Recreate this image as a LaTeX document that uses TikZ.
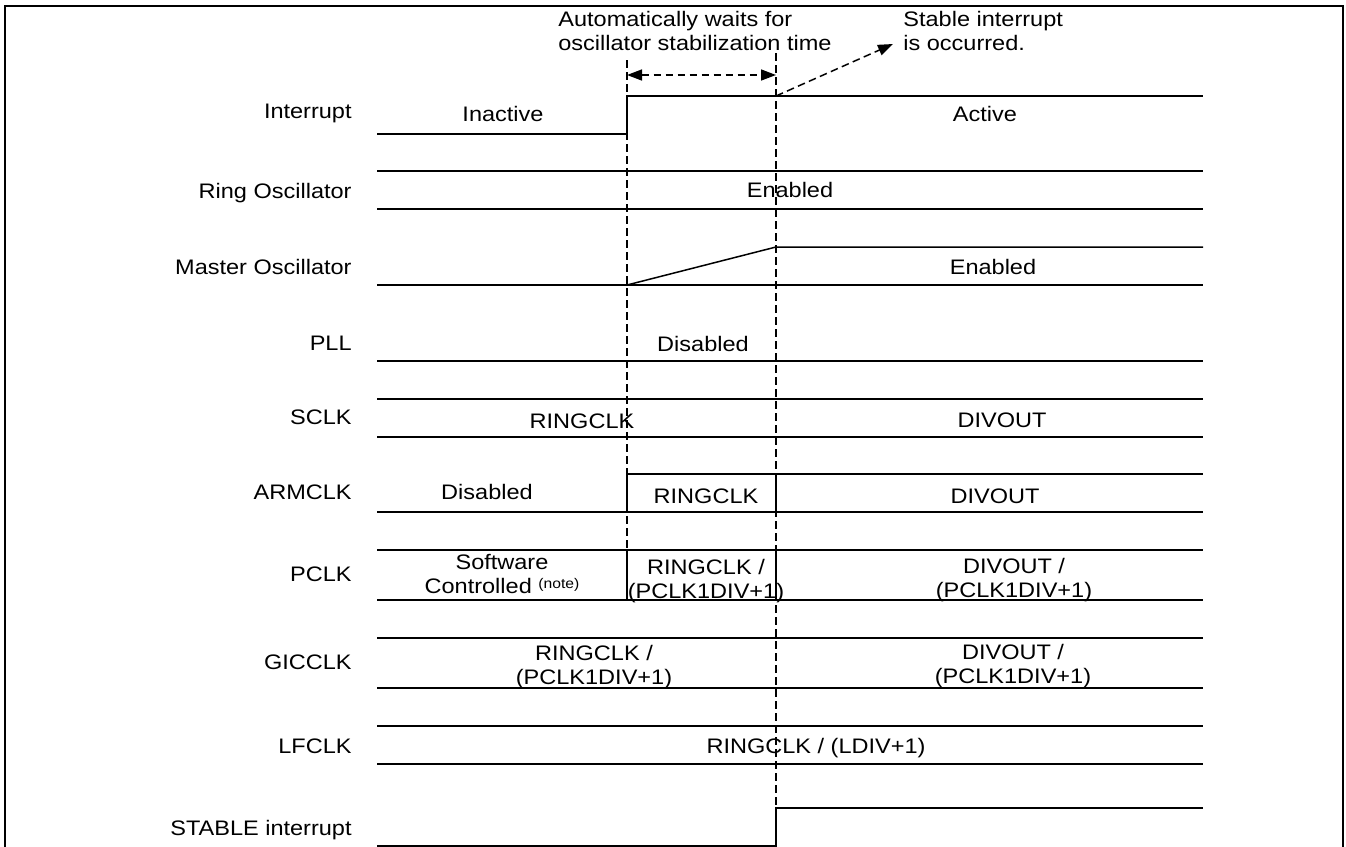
\documentclass[tikz,border=0pt]{standalone}
\usepackage{fontspec}
\setmainfont{Liberation Sans}[FakeStretch=1.12]
\usetikzlibrary{arrows.meta}
\newcommand{\twol}[2]{\begin{tabular}{@{}c@{}}#1\\#2\end{tabular}}
\newcommand{\twoleft}[2]{\begin{tabular}{@{}l@{}}#1\\#2\end{tabular}}
\newcommand{\notemark}{{\fontsize{7}{7}\selectfont\raisebox{2.8pt}{(note)}}}
\begin{document}
\begin{tikzpicture}[x=0.5pt,y=-0.5pt,
  every node/.style={font=\fontsize{10.5}{12}\selectfont},
  frame/.style={line width=1.1pt},
  sig/.style={line width=0.75pt},
  vdash/.style={line width=0.75pt, dash pattern=on 3.8pt off 2.2pt},
  >={Triangle[length=7.5pt,width=5.5pt]},
  lbl/.style={anchor=east, inner sep=0pt, text height=7.5pt, text depth=0pt},
  txt/.style={inner sep=0pt, text height=7.5pt, text depth=0pt},
  txttwo/.style={inner sep=0pt}
]
\useasboundingbox (0,0) rectangle (1346,847);
\draw[frame] (5,852) -- (5,6) -- (1343,6) -- (1343,852);

% time marks
\coordinate (ta) at (627,60);
\coordinate (tab) at (627,600);
\coordinate (tb) at (776,53);
\coordinate (tbb) at (776,846);

% row labels
\node[lbl] (lint) at (352,111) {Interrupt};
\node[lbl] (lring) at (352,191) {Ring Oscillator};
\node[lbl] (lmas) at (352,267) {Master Oscillator};
\node[lbl] (lpll) at (352,343) {PLL};
\node[lbl] (lsclk) at (352,417) {SCLK};
\node[lbl] (larm) at (352,492) {ARMCLK};
\node[lbl] (lpclk) at (352,574) {PCLK};
\node[lbl] (lgic) at (352,662) {GICCLK};
\node[lbl] (llf) at (352,746) {LFCLK};
\node[lbl] (lstab) at (352,828) {STABLE interrupt};

% Interrupt
\draw[sig] (377,134) -- (627,134) -- (627,96) -- (1203,96);
\node[txt] (tinact) at (503,114) {Inactive};
\node[txt] (tact) at (985,114) {Active};

% Ring oscillator
\draw[sig] (377,171) -- (1203,171);
\draw[sig] (377,209) -- (1203,209);
\node[txt] (tring) at (790,190) {Enabled};

% Master oscillator
\draw[sig] (377,285) -- (1203,285);
\draw[sig] (627,285) -- (776,247) -- (1203,247);
\node[txt] (tmas) at (993,267) {Enabled};

% PLL
\draw[sig] (377,361) -- (1203,361);
\node[txt] (tpll) at (703,344) {Disabled};

% SCLK
\draw[sig] (377,399) -- (1203,399);
\draw[sig] (377,437) -- (1203,437);
\node[txt] (tsclka) at (582,421) {RINGCLK};
\node[txt] (tsclkb) at (1002,420) {DIVOUT};

% ARMCLK
\draw[sig] (377,512) -- (1203,512);
\draw[sig] (627,512) -- (627,474) -- (1203,474);
\draw[sig] (776,474) -- (776,512);
\node[txt] (tarma) at (487,492) {Disabled};
\node[txt] (tarmb) at (706,496) {RINGCLK};
\node[txt] (tarmc) at (995,496) {DIVOUT};

% PCLK
\draw[sig] (377,550) -- (1203,550);
\draw[sig] (377,600) -- (1203,600);
\draw[sig] (627,550) -- (627,600);
\draw[sig] (776,550) -- (776,600);
\node[txttwo] (tpclka) at (502,577) {\twol{Software}{Controlled \notemark}};
\node[txttwo] (tpclkb) at (706,582) {\twol{RINGCLK /}{(PCLK1DIV+1)}};
\node[txttwo] (tpclkc) at (1014,581) {\twol{DIVOUT /}{(PCLK1DIV+1)}};

% GICCLK
\draw[sig] (377,638) -- (1203,638);
\draw[sig] (377,688) -- (1203,688);
\node[txttwo] (tgica) at (594,668) {\twol{RINGCLK /}{(PCLK1DIV+1)}};
\node[txttwo] (tgicb) at (1013,667) {\twol{DIVOUT /}{(PCLK1DIV+1)}};

% LFCLK
\draw[sig] (377,726) -- (1203,726);
\draw[sig] (377,764) -- (1203,764);
\node[txt] (tlf) at (816,746) {RINGCLK / (LDIV+1)};

% STABLE interrupt
\draw[sig] (377,846) -- (776,846) -- (776,808) -- (1203,808);

% dashed time markers
\draw[vdash] (ta) -- (tab);
\draw[vdash] (tb) -- (tbb);

% annotations
\node[txttwo, anchor=west] (nwait) at (558,34) {\twoleft{Automatically waits for}{oscillator stabilization time}};
\node[txttwo, anchor=west] (nstab) at (903,34) {\twoleft{Stable interrupt}{is occurred.}};
\coordinate (wa) at (627,75);
\coordinate (wb) at (776,75);
\coordinate (sa) at (776,96);
\coordinate (sb) at (893,44);
\draw[vdash, <->] (wa) -- (wb);
\draw[vdash, ->] (sa) -- (sb);
\end{tikzpicture}
\end{document}
